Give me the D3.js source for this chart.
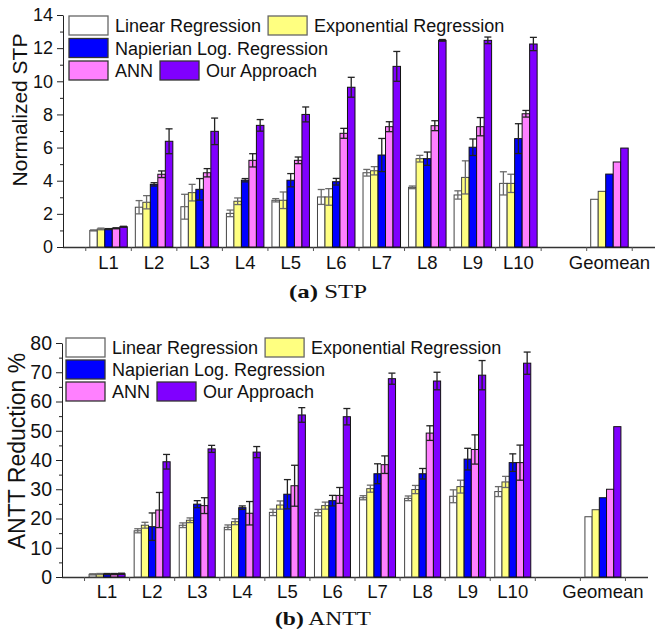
<!DOCTYPE html>
<html>
<head>
<meta charset="utf-8">
<script src="https://cdn.jsdelivr.net/npm/d3@7"></script>
<style>
  body { margin: 0; background: #fff; }
  svg { display: block; font-family: "Liberation Sans", Arial, sans-serif; }
</style>
</head>
<body>
<svg id="chart" width="668" height="633"></svg>
<script>
// categories, with empty slots so the axis keeps the gap before Geomean
const categories = ["L1", "L2", "L3", "L4", "L5", "L6", "L7", "L8", "L9", "L10", "Geomean"];
const slots = ["", ...categories.slice(0, 10), " ", "Geomean", "  "];
const series = ["Linear Regression", "Exponential Regression", "Napierian Log. Regression", "ANN", "Our Approach"];
const colors = ["#ffffff", "#ffff80", "#0000ff", "#ff80ff", "#8000ff"];

// (a) STP
const stpLinear = [1.0, 2.4, 2.43, 2.03, 2.82, 3.02, 4.48, 3.6, 3.14, 3.84, 2.88];
const stpExp    = [1.09, 2.7, 3.28, 2.76, 2.82, 3.02, 4.6, 5.33, 4.2, 3.84, 3.36];
const stpLog    = [1.08, 3.78, 3.48, 4.03, 4.03, 3.94, 5.55, 5.33, 6.02, 6.54, 4.4];
const stpAnn    = [1.13, 4.39, 4.48, 5.23, 5.23, 6.86, 7.26, 7.32, 7.26, 8.04, 5.13];
const stpOurs   = [1.22, 6.38, 6.98, 7.34, 8.0, 9.64, 10.9, 12.47, 12.47, 12.25, 5.97];
const stpLinearErr = [0.03, 0.4, 0.75, 0.2, 0.1, 0.45, 0.2, 0.08, 0.25, 0.7, null];
const stpExpErr    = [0.05, 0.4, 0.5, 0.2, 0.5, 0.5, 0.25, 0.2, 1.0, 0.55, null];
const stpLogErr    = [0.03, 0.1, 0.65, 0.1, 0.4, 0.2, 1.0, 0.4, 0.5, 0.9, null];
const stpAnnErr    = [0.03, 0.2, 0.25, 0.4, 0.2, 0.3, 0.3, 0.3, 0.55, 0.2, null];
const stpOursErr   = [0.03, 0.75, 0.8, 0.35, 0.45, 0.6, 0.9, 0.05, 0.2, 0.4, null];

// (b) ANTT
const anttLinear = [0.9, 15.8, 17.7, 17.0, 22.1, 22.0, 27.1, 26.9, 27.6, 29.2, 20.6];
const anttExp    = [1.0, 17.7, 19.4, 18.9, 24.6, 24.4, 30.2, 29.9, 30.9, 32.5, 23.0];
const anttLog    = [1.0, 17.2, 24.9, 23.7, 28.3, 26.1, 35.3, 35.3, 40.3, 39.1, 27.1];
const anttAnn    = [1.0, 22.9, 24.4, 21.8, 31.2, 27.9, 38.4, 49.2, 43.6, 39.1, 30.0];
const anttOurs   = [1.1, 39.4, 43.8, 42.7, 55.4, 54.8, 67.8, 67.0, 69.0, 73.1, 51.4];
const anttLinearErr = [0.2, 0.7, 0.8, 0.8, 1.1, 1.1, 0.7, 0.8, 2.2, 1.7, null];
const anttExpErr    = [0.2, 1.0, 0.8, 1.0, 1.4, 1.2, 1.2, 1.4, 2.2, 1.9, null];
const anttLogErr    = [0.2, 4.7, 1.2, 0.6, 5.0, 1.8, 3.4, 1.8, 3.7, 3.0, null];
const anttAnnErr    = [0.2, 6.0, 2.7, 4.0, 7.0, 2.7, 3.0, 2.5, 5.0, 6.0, null];
const anttOursErr   = [0.2, 2.5, 1.2, 1.9, 2.5, 2.8, 1.9, 3.0, 5.0, 3.8, null];

const svg = d3.select("#chart");

function drawPanel(cfg) {
    const g = svg.append("g");
    const x = d3.scalePoint().domain(slots).range([cfg.left, cfg.right]);
    const step = x.step();
    const inner = d3.scaleBand().domain(series).range([-cfg.groupWidth / 2, cfg.groupWidth / 2]);
    const y = d3.scaleLinear().domain([0, cfg.yMax]).range([cfg.bottom, cfg.top]);

    // x axis line + small ticks between groups
    g.append("line")
        .attr("x1", cfg.left).attr("x2", cfg.right)
        .attr("y1", cfg.bottom + 0.5).attr("y2", cfg.bottom + 0.5)
        .attr("stroke", "#333").attr("stroke-width", 1.3);
    g.selectAll(".xtick")
        .data(d3.range(0, slots.length - 1).map(i => x(slots[i]) + step / 2))
        .join("line")
        .attr("x1", d => d).attr("x2", d => d)
        .attr("y1", cfg.bottom).attr("y2", cfg.bottom + 4)
        .attr("stroke", "#555");

    // bars
    const groups = g.selectAll(".grp")
        .data(categories)
        .join("g")
        .attr("transform", d => `translate(${x(d)},0)`);

    series.forEach((s, si) => {
        const vals = cfg.values[si];
        const errs = cfg.errors[si];
        groups.append("rect")
            .attr("x", inner(s))
            .attr("width", inner.bandwidth())
            .attr("y", (d, i) => y(vals[i]))
            .attr("height", (d, i) => y(0) - y(vals[i]))
            .attr("fill", colors[si])
            .attr("stroke", si < 2 ? "#444" : "#111")
            .attr("stroke-width", 1);

        const errColor = si < 2 ? "#6a6a6a" : "#222";
        groups.filter((d, i) => errs[i] != null).each(function (d) {
            const i = categories.indexOf(d);
            const cx = inner(s) + inner.bandwidth() / 2;
            const hi = y(vals[i] + errs[i]);
            const lo = y(Math.max(0, vals[i] - errs[i]));
            const eg = d3.select(this).append("g").attr("stroke", errColor).attr("stroke-width", 1.3);
            eg.append("line").attr("x1", cx).attr("x2", cx).attr("y1", hi).attr("y2", lo);
            eg.append("line").attr("x1", cx - 3.5).attr("x2", cx + 3.5).attr("y1", hi).attr("y2", hi);
            eg.append("line").attr("x1", cx - 3.5).attr("x2", cx + 3.5).attr("y1", lo).attr("y2", lo);
        });
    });

    // x labels
    g.selectAll(".xlab")
        .data(categories)
        .join("text")
        .attr("x", d => x(d))
        .attr("y", cfg.bottom + cfg.xLabelDy)
        .attr("text-anchor", "middle")
        .attr("font-size", cfg.xFont)
        .attr("fill", "#111")
        .text(d => d);

    // y axis: major + minor ticks
    const yAxis = g.append("g")
        .attr("transform", `translate(${cfg.left},0)`)
        .call(d3.axisLeft(y).tickValues(d3.range(0, cfg.yMax + 1e-9, cfg.yStep)).tickSize(6).tickPadding(4).tickSizeOuter(0));
    yAxis.select(".domain").attr("stroke", "#222");
    yAxis.selectAll("text").attr("font-size", cfg.yFont).attr("fill", "#111").attr("font-family", "Liberation Sans, Arial, sans-serif");
    yAxis.selectAll("line").attr("stroke", "#222");
    g.append("g")
        .attr("transform", `translate(${cfg.left},0)`)
        .call(d3.axisLeft(y).tickValues(d3.range(cfg.yStep / 2, cfg.yMax, cfg.yStep)).tickSize(3).tickFormat(""))
        .call(a => a.select(".domain").remove())
        .selectAll("line").attr("stroke", "#222");

    g.append("text")
        .attr("transform", `translate(${cfg.titleX},${cfg.titleY}) rotate(-90)`)
        .attr("text-anchor", "middle")
        .attr("font-size", cfg.titleFont)
        .attr("fill", "#111")
        .text(cfg.yTitle);

    // legend
    const legend = g.append("g");
    cfg.legendRows.forEach((row, ri) => {
        let lx = cfg.legendX;
        const ly = cfg.legendY + ri * cfg.legendStep;
        row.forEach(si => {
            legend.append("rect")
                .attr("x", lx).attr("y", ly)
                .attr("width", 39).attr("height", 19)
                .attr("fill", colors[si])
                .attr("stroke", si < 2 ? "#666" : "#333").attr("stroke-width", 1.3);
            const t = legend.append("text")
                .attr("x", lx + 46).attr("y", ly + 16)
                .attr("font-size", 18)
                .attr("fill", "#111")
                .text(series[si]);
            lx += 46 + t.node().getComputedTextLength() + 7;
        });
    });

    // caption
    const cap = g.append("text")
        .attr("x", cfg.captionX)
        .attr("y", cfg.captionY)
        .attr("text-anchor", "middle")
        .attr("font-family", "Liberation Serif, 'DejaVu Serif', serif")
        .attr("font-size", 19)
        .attr("textLength", cfg.captionWidth)
        .attr("lengthAdjust", "spacingAndGlyphs")
        .attr("fill", "#111");
    cap.append("tspan").attr("font-weight", "bold").text(cfg.captionTag);
    cap.append("tspan").text(" " + cfg.captionText);
}

drawPanel({
    values: [stpLinear, stpExp, stpLog, stpAnn, stpOurs],
    errors: [stpLinearErr, stpExpErr, stpLogErr, stpAnnErr, stpOursErr],
    left: 63, right: 655, top: 15, bottom: 247,
    yMax: 14, yStep: 2, groupWidth: 37.5,
    xFont: 18.5, xLabelDy: 22, yFont: 18,
    yTitle: "Normalized STP", titleX: 27, titleY: 110, titleFont: 21,
    legendX: 69, legendY: 16, legendStep: 22.5,
    legendRows: [[0, 1], [2], [3, 4]],
    captionTag: "(a)", captionText: "STP", captionX: 328, captionY: 298, captionWidth: 78
});

drawPanel({
    values: [anttLinear, anttExp, anttLog, anttAnn, anttOurs],
    errors: [anttLinearErr, anttExpErr, anttLogErr, anttAnnErr, anttOursErr],
    left: 62, right: 648, top: 343, bottom: 577,
    yMax: 80, yStep: 10, groupWidth: 36,
    xFont: 18.5, xLabelDy: 21, yFont: 19.5,
    yTitle: "ANTT Reduction %", titleX: 25, titleY: 451, titleFont: 23,
    legendX: 66, legendY: 338, legendStep: 22,
    legendRows: [[0, 1], [2], [3, 4]],
    captionTag: "(b)", captionText: "ANTT", captionX: 323, captionY: 625, captionWidth: 96
});
</script>
</body>
</html>
